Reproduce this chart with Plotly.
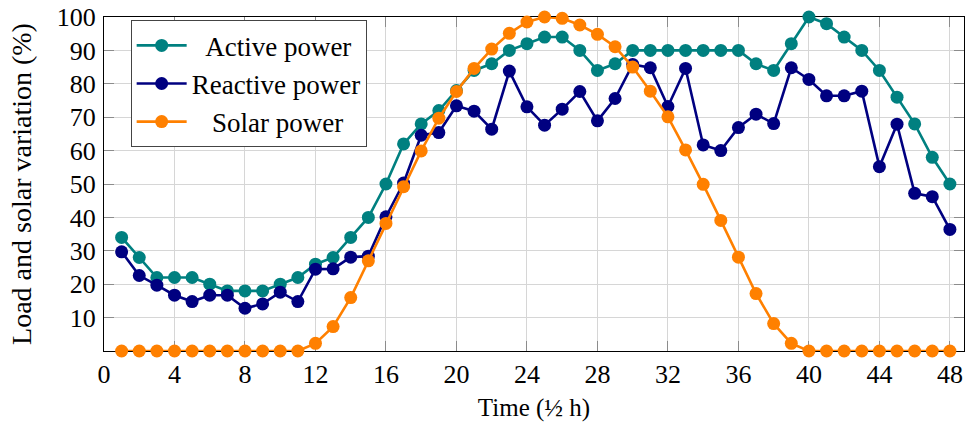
import plotly.graph_objects as go

time = list(range(1, 49))
active = [34, 28, 22, 22, 22, 20, 18, 18, 18, 20, 22, 26, 28, 34, 40, 50,
          62, 68, 72, 78, 84, 86, 90, 92, 94, 94, 90, 84, 86, 90, 90, 90,
          90, 90, 90, 90, 86, 84, 92, 100, 98, 94, 90, 84, 76, 68, 58, 50]
reactive = [29.7, 22.6, 19.7, 16.7, 14.8, 16.7, 16.7, 12.8, 14.1, 17.6, 14.8, 24.5,
            24.6, 28.1, 28.4, 40.2, 50.3, 64.6, 65.4, 73.4, 71.8, 66.4, 83.8, 73.1,
            67.6, 72.4, 77.7, 68.9, 75.6, 85.8, 84.8, 73.2, 84.6, 61.7, 60.0, 66.9,
            70.9, 68.1, 84.8, 81.3, 76.4, 76.4, 77.8, 55.2, 67.9, 47.2, 46.2, 36.4]
solar = [0, 0, 0, 0, 0, 0, 0, 0, 0, 0, 0, 2.3, 7.3, 16.0, 27.0, 38.2,
         49.2, 59.9, 69.7, 77.7, 84.6, 90.4, 95.1, 98.5, 100, 99.6, 97.6, 94.8,
         91.1, 85.0, 77.8, 70.1, 60.2, 49.9, 39.1, 28.1, 17.2, 8.2, 2.3, 0,
         0, 0, 0, 0, 0, 0, 0, 0]

NB = "\u00a0"
series = [
    (NB * 2 + "Active power", active, "#008080"),
    ("Reactive power", reactive, "#000080"),
    (NB * 3 + "Solar power", solar, "#ff8000"),
]

x_ticks = list(range(0, 49, 4))
y_ticks = list(range(10, 101, 10))

FONT = "Liberation Serif"

fig = go.Figure()
for name, vals, color in series:
    fig.add_trace(go.Scatter(
        x=time, y=vals, name=name, mode="lines+markers",
        line=dict(color=color, width=2.6),
        marker=dict(color=color, size=13, symbol="circle"),
        cliponaxis=False,
    ))

axis_common = dict(
    showline=True, linecolor="black", linewidth=1.2, mirror="ticks",
    showgrid=True, gridcolor="#d6d6d6", gridwidth=1,
    ticks="inside", ticklen=10, tickcolor="#8c8c8c", tickwidth=1,
    zeroline=False, layer="below traces", automargin=False,
    tickfont=dict(family=FONT, size=26, color="black"),
)

fig.update_xaxes(range=[0, 48.8], tickvals=x_ticks, ticktext=[str(v) for v in x_ticks],
                 title_text="Time (\u00bd h)", title_standoff=10,
                 title_font=dict(family=FONT, size=25, color="black"), **axis_common)
fig.update_yaxes(range=[0, 100], tickvals=y_ticks, ticktext=[str(v) for v in y_ticks],
                 title_text="Load and solar variation (%)", title_standoff=16,
                 ticklabelstandoff=2,
                 title_font=dict(family=FONT, size=28, color="black"), **axis_common)

fig.update_layout(
    width=965, height=431,
    margin=dict(l=104, r=1, t=17, b=80),
    plot_bgcolor="white", paper_bgcolor="white",
    font=dict(family=FONT, size=25, color="black"),
    legend=dict(x=0.031, y=0.99, xanchor="left", yanchor="top",
                bordercolor="#444444", borderwidth=1, bgcolor="white",
                font=dict(family=FONT, size=27, color="black"),
                tracegroupgap=0, itemwidth=50),
    showlegend=True,
)

fig.write_html("out.html", config={"displayModeBar": False},
               post_script="document.body.style.margin='0';")
